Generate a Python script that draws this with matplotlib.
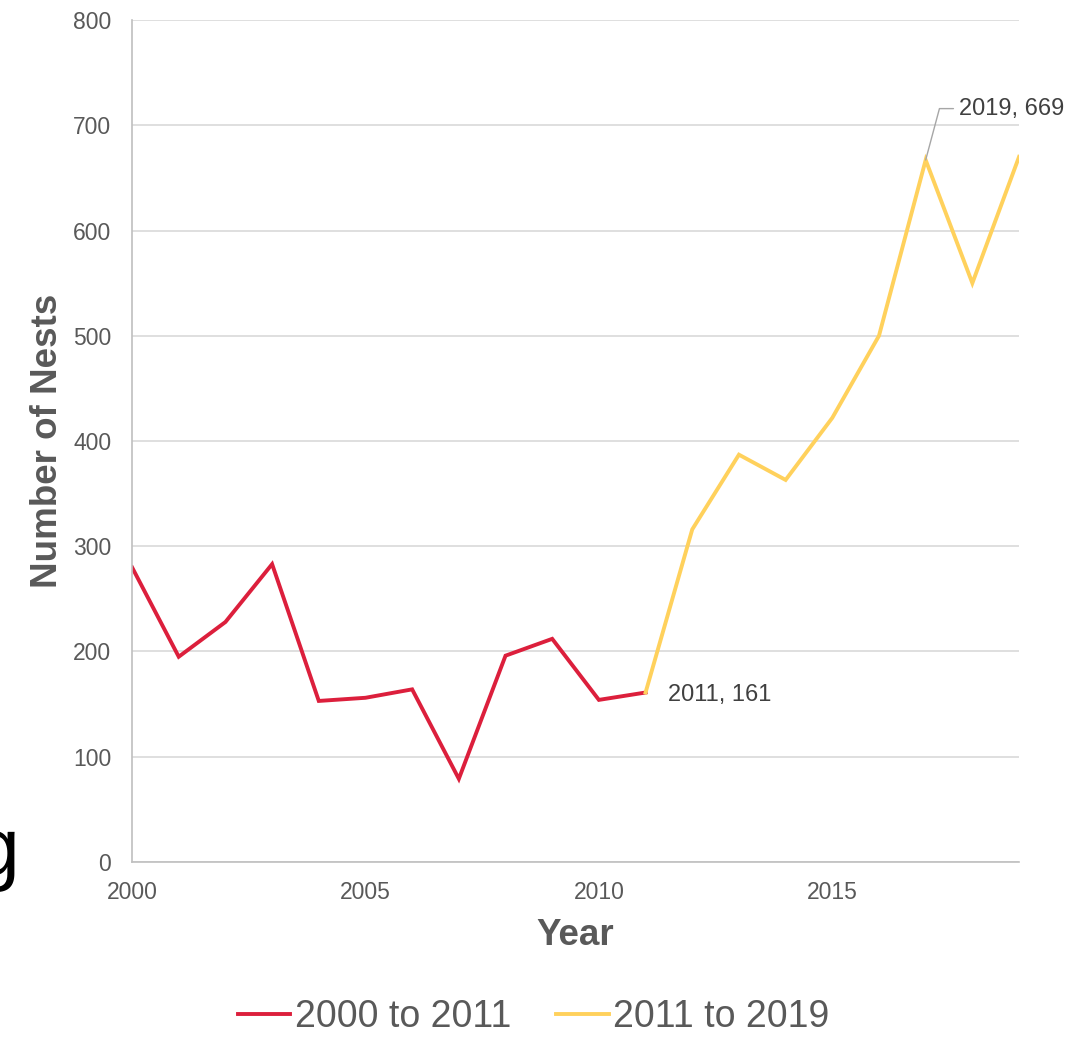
import matplotlib.pyplot as plt
from matplotlib.lines import Line2D

plt.rcParams['font.family'] = ['Liberation Sans', 'DejaVu Sans']

# data
years_early = [2000, 2001, 2002, 2003, 2004, 2005, 2006, 2007, 2008, 2009, 2010, 2011]
nests_early = [280, 195, 228, 283, 153, 156, 164, 79, 196, 212, 154, 161]
years_late = [2011, 2012, 2013, 2014, 2015, 2016, 2017, 2018, 2019]
nests_late = [161, 316, 387, 363, 422, 500, 667, 550, 670]
series_labels = ['2000 to 2011', '2011 to 2019']

red = '#DC1F3C'
yellow = '#FFD15C'
grey_text = '#595959'

fig = plt.figure(figsize=(10.78, 10.38), dpi=100)
ax = fig.add_axes([0.1225, 0.1696, 0.8228, 0.8111])

ax.plot(years_early, nests_early, color=red, linewidth=2.8, solid_joinstyle='miter')
ax.plot(years_late, nests_late, color=yellow, linewidth=2.8, solid_joinstyle='miter')

ax.set_xlim(2000, 2019)
ax.set_ylim(0, 800)
ax.set_xticks([2000, 2005, 2010, 2015])
ax.set_yticks(range(0, 801, 100))
ax.grid(axis='y', color='#D9D9D9', linewidth=1.2)
ax.set_axisbelow(True)
for s in ['top', 'right']:
    ax.spines[s].set_visible(False)
for s in ['left', 'bottom']:
    ax.spines[s].set_color('#BFBFBF')
    ax.spines[s].set_linewidth(1.2)
ax.tick_params(length=0, labelsize=16.5, colors=grey_text)
ax.tick_params(axis='x', pad=14)
ax.tick_params(axis='y', pad=15)

ax.set_xlabel('Year', fontsize=26.5, fontweight='bold', color=grey_text, labelpad=10)
ax.set_ylabel('Number of Nests', fontsize=26.5, fontweight='bold', color=grey_text, labelpad=6)

# data labels
ax.annotate('2011, 161', xy=(years_early[-1], nests_early[-1]), xytext=(16.5, -2),
            textcoords='offset points', fontsize=17, color='#404040', va='center')
ax.annotate('2019, 669', xy=(years_late[6], nests_late[6]), xytext=(24, 37),
            textcoords='offset points', fontsize=17, color='#404040', va='center',
            arrowprops=dict(arrowstyle='-', color='#A6A6A6', lw=1,
                            connectionstyle='angle,angleA=0,angleB=75,rad=0',
                            shrinkA=2, shrinkB=0))

handles = [Line2D([], [], color=red, linewidth=2.8), Line2D([], [], color=yellow, linewidth=2.8)]
fig.legend(handles, series_labels, loc='center', bbox_to_anchor=(0.495, 0.02),
           ncol=2, frameon=False, fontsize=27, labelcolor=grey_text,
           handlelength=1.4, handletextpad=0.12, columnspacing=1.2)

# stray cropped character at the left edge (cut off in the reference too)
fig.text(19 / 1078, 1 - 875 / 1038, 'g', fontsize=58, ha='right', va='baseline', color='black')

fig.savefig('out.png', dpi=100)
